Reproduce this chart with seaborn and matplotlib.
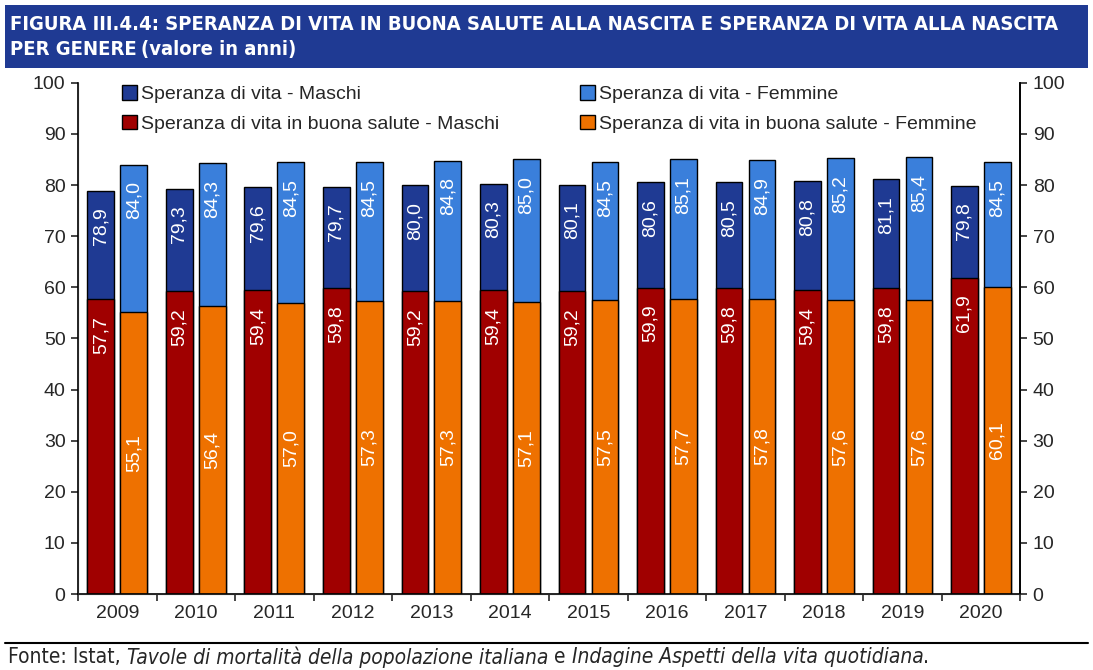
import numpy as np
import pandas as pd
import matplotlib
matplotlib.use("Agg")
import matplotlib.pyplot as plt
import seaborn as sns
from matplotlib.patches import Rectangle, Patch

# Data
anni = ["2009", "2010", "2011", "2012", "2013", "2014", "2015", "2016", "2017", "2018", "2019", "2020"]
vita_maschi = [78.9, 79.3, 79.6, 79.7, 80.0, 80.3, 80.1, 80.6, 80.5, 80.8, 81.1, 79.8]
vita_femmine = [84.0, 84.3, 84.5, 84.5, 84.8, 85.0, 84.5, 85.1, 84.9, 85.2, 85.4, 84.5]
salute_maschi = [57.7, 59.2, 59.4, 59.8, 59.2, 59.4, 59.2, 59.9, 59.8, 59.4, 59.8, 61.9]
salute_femmine = [55.1, 56.4, 57.0, 57.3, 57.3, 57.1, 57.5, 57.7, 57.8, 57.6, 57.6, 60.1]
generi = ["Maschi", "Femmine"]

# Colours
c_vm, c_vf = "#1f3a93", "#3a7fdb"
c_sm, c_sf = "#a00000", "#ee7100"

sns.set_style("white")
plt.rcParams["font.family"] = ["Liberation Sans", "DejaVu Sans"]
COND = dict(family="DejaVu Sans", stretch="condensed")

tot = pd.DataFrame({"anno": anni * 2, "genere": ["Maschi"] * 12 + ["Femmine"] * 12,
                    "valore": vita_maschi + vita_femmine})
sal = pd.DataFrame({"anno": anni * 2, "genere": ["Maschi"] * 12 + ["Femmine"] * 12,
                    "valore": salute_maschi + salute_femmine})

fig = plt.figure(figsize=(10.93, 6.70), dpi=100)
ax = fig.add_axes([0.0714, 0.1134, 0.862, 0.763])

kw = dict(x="anno", y="valore", hue="genere", hue_order=generi, width=0.84, gap=0.19,
          edgecolor="black", linewidth=1.0, legend=False, ax=ax, errorbar=None, saturation=1)
sns.barplot(data=tot, palette=[c_vm, c_vf], **kw)
sns.barplot(data=sal, palette=[c_sm, c_sf], **kw)

ax.set_ylim(0, 100)
ax.set_xlim(-0.5, 11.5)
ax.set_yticks(range(0, 101, 10))
ax.set_xlabel("")
ax.set_ylabel("")
ax.tick_params(axis="y", labelsize=14, length=5, width=1.2, direction="out", left=True, pad=4)
ax.tick_params(axis="x", labelsize=14, length=0, pad=8)
ax.set_xticks(np.arange(-0.5, 12, 1), minor=True)
ax.tick_params(axis="x", which="minor", length=5, width=1.2, bottom=True, direction="out")
for s in ["left", "bottom", "right"]:
    ax.spines[s].set_color("black")
    ax.spines[s].set_linewidth(1.2)
ax.spines["top"].set_visible(False)

ax2 = ax.twinx()
ax2.set_ylim(0, 100)
ax2.set_yticks(range(0, 101, 10))
ax2.tick_params(axis="y", labelsize=14, length=5, width=1.2, direction="out", right=True, pad=4)
ax2.spines["top"].set_visible(False)
ax2.spines["right"].set_linewidth(1.2)
ax2.spines["right"].set_color("black")

# Labels
def lab(v):
    return f"{v:.1f}".replace(".", ",")

# containers order: tot Maschi, tot Femmine, sal Maschi, sal Femmine
for ci, cont in enumerate(ax.containers):
    for p in cont.patches:
        h = p.get_height()
        xc = p.get_x() + p.get_width() / 2
        if ci == 3:
            ax.text(xc, h / 2, lab(h), rotation=90, ha="center", va="center",
                    color="white", fontsize=14)
        else:
            ax.annotate(lab(h), (xc, h), xytext=(0, -12), textcoords="offset points",
                        rotation=90, ha="center", va="top", color="white", fontsize=14)

# Legend
handles = [Patch(facecolor=c_vm, edgecolor="black"), Patch(facecolor=c_sm, edgecolor="black"),
           Patch(facecolor=c_vf, edgecolor="black"), Patch(facecolor=c_sf, edgecolor="black")]
labels = ["Speranza di vita - Maschi", "Speranza di vita in buona salute - Maschi",
          "Speranza di vita - Femmine", "Speranza di vita in buona salute - Femmine"]
ax.legend(handles, labels, ncol=2, loc="upper left", bbox_to_anchor=(0.0385, 1.01),
          frameon=False, fontsize=14, handlelength=0.75, handleheight=0.75,
          handletextpad=0.2, columnspacing=4.2, labelspacing=0.6, borderaxespad=0)

# Title band
fig.patches.append(Rectangle((0.005, 0.898), 0.99, 0.094, transform=fig.transFigure,
                             facecolor="#1f3a93", edgecolor="none"))
r = fig.canvas.get_renderer()
t1 = fig.text(0.009, 0.963, "FIGURA III.4.4: SPERANZA DI VITA IN BUONA SALUTE ALLA NASCITA E SPERANZA DI VITA ALLA NASCITA",
              color="white", fontsize=15, fontweight="bold", va="center", **COND)
fs = 15
while t1.get_window_extent(r).x1 > 1076 and fs > 8:
    fs -= 0.25
    t1.set_fontsize(fs)
t2 = fig.text(0.009, 0.926, "PER GENERE", color="white", fontsize=fs, fontweight="bold",
              va="center", **COND)
bb = t2.get_window_extent(r)
fig.text((bb.x1 + 4) / fig.bbox.width, 0.926, "(valore in anni)", color="white", fontsize=fs,
         fontweight="bold", va="center", **COND)

# Footer
fig.add_artist(plt.Line2D([0.005, 0.995], [0.040, 0.040], transform=fig.transFigure,
                          color="black", linewidth=1.5))
parts = [("Fonte: Istat, ", "normal"), ("Tavole di mortalità della popolazione italiana", "italic"),
         (" e ", "normal"), ("Indagine Aspetti della vita quotidiana", "italic"), (".", "normal")]
ffs = 15
x = 8
for txt, st in parts:
    t = fig.text(x / fig.bbox.width, 0.019, txt, fontsize=ffs, style=st, va="center", **COND)
    x = t.get_window_extent(r).x1

fig.savefig("out.png", dpi=100)
